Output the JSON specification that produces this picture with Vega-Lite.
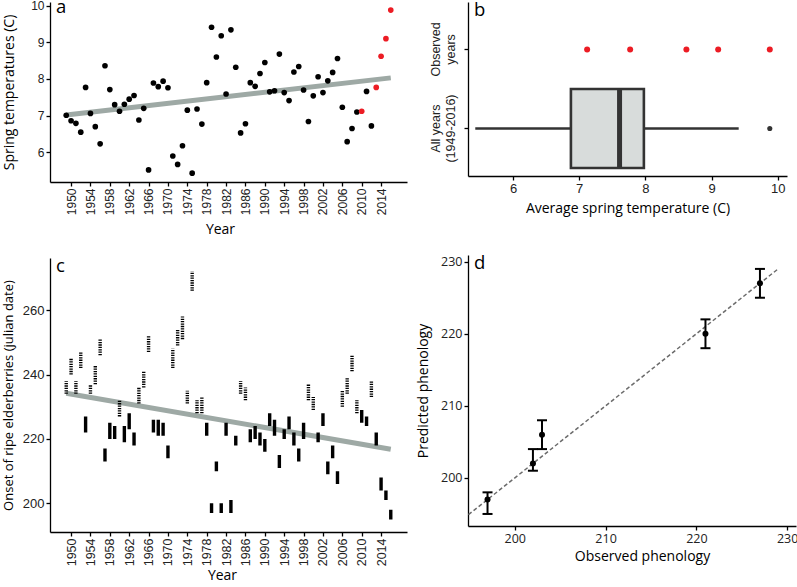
{
  "$schema": "https://vega.github.io/schema/vega-lite/v6.json",
  "padding": {"left": 2, "top": -2, "right": 0, "bottom": 0},
  "background": "white",
  "datasets": {
    "temps": [
      {"year": 1949, "temp": 7.01, "obs": "no", "grp": "All years (1949-2016)"},
      {"year": 1950, "temp": 6.86, "obs": "no", "grp": "All years (1949-2016)"},
      {"year": 1951, "temp": 6.79, "obs": "no", "grp": "All years (1949-2016)"},
      {"year": 1952, "temp": 6.55, "obs": "no", "grp": "All years (1949-2016)"},
      {"year": 1953, "temp": 7.77, "obs": "no", "grp": "All years (1949-2016)"},
      {"year": 1954, "temp": 7.06, "obs": "no", "grp": "All years (1949-2016)"},
      {"year": 1955, "temp": 6.70, "obs": "no", "grp": "All years (1949-2016)"},
      {"year": 1956, "temp": 6.23, "obs": "no", "grp": "All years (1949-2016)"},
      {"year": 1957, "temp": 8.36, "obs": "no", "grp": "All years (1949-2016)"},
      {"year": 1958, "temp": 7.71, "obs": "no", "grp": "All years (1949-2016)"},
      {"year": 1959, "temp": 7.30, "obs": "no", "grp": "All years (1949-2016)"},
      {"year": 1960, "temp": 7.12, "obs": "no", "grp": "All years (1949-2016)"},
      {"year": 1961, "temp": 7.31, "obs": "no", "grp": "All years (1949-2016)"},
      {"year": 1962, "temp": 7.45, "obs": "no", "grp": "All years (1949-2016)"},
      {"year": 1963, "temp": 7.55, "obs": "no", "grp": "All years (1949-2016)"},
      {"year": 1964, "temp": 6.88, "obs": "no", "grp": "All years (1949-2016)"},
      {"year": 1965, "temp": 7.20, "obs": "no", "grp": "All years (1949-2016)"},
      {"year": 1966, "temp": 5.52, "obs": "no", "grp": "All years (1949-2016)"},
      {"year": 1967, "temp": 7.89, "obs": "no", "grp": "All years (1949-2016)"},
      {"year": 1968, "temp": 7.79, "obs": "no", "grp": "All years (1949-2016)"},
      {"year": 1969, "temp": 7.94, "obs": "no", "grp": "All years (1949-2016)"},
      {"year": 1970, "temp": 7.76, "obs": "no", "grp": "All years (1949-2016)"},
      {"year": 1971, "temp": 5.90, "obs": "no", "grp": "All years (1949-2016)"},
      {"year": 1972, "temp": 5.67, "obs": "no", "grp": "All years (1949-2016)"},
      {"year": 1973, "temp": 6.18, "obs": "no", "grp": "All years (1949-2016)"},
      {"year": 1974, "temp": 7.15, "obs": "no", "grp": "All years (1949-2016)"},
      {"year": 1975, "temp": 5.43, "obs": "no", "grp": "All years (1949-2016)"},
      {"year": 1976, "temp": 7.18, "obs": "no", "grp": "All years (1949-2016)"},
      {"year": 1977, "temp": 6.77, "obs": "no", "grp": "All years (1949-2016)"},
      {"year": 1978, "temp": 7.90, "obs": "no", "grp": "All years (1949-2016)"},
      {"year": 1979, "temp": 9.41, "obs": "no", "grp": "All years (1949-2016)"},
      {"year": 1980, "temp": 8.60, "obs": "no", "grp": "All years (1949-2016)"},
      {"year": 1981, "temp": 9.18, "obs": "no", "grp": "All years (1949-2016)"},
      {"year": 1982, "temp": 7.59, "obs": "no", "grp": "All years (1949-2016)"},
      {"year": 1983, "temp": 9.34, "obs": "no", "grp": "All years (1949-2016)"},
      {"year": 1984, "temp": 8.32, "obs": "no", "grp": "All years (1949-2016)"},
      {"year": 1985, "temp": 6.53, "obs": "no", "grp": "All years (1949-2016)"},
      {"year": 1986, "temp": 6.78, "obs": "no", "grp": "All years (1949-2016)"},
      {"year": 1987, "temp": 7.90, "obs": "no", "grp": "All years (1949-2016)"},
      {"year": 1988, "temp": 7.80, "obs": "no", "grp": "All years (1949-2016)"},
      {"year": 1989, "temp": 8.15, "obs": "no", "grp": "All years (1949-2016)"},
      {"year": 1990, "temp": 8.45, "obs": "no", "grp": "All years (1949-2016)"},
      {"year": 1991, "temp": 7.65, "obs": "no", "grp": "All years (1949-2016)"},
      {"year": 1992, "temp": 7.68, "obs": "no", "grp": "All years (1949-2016)"},
      {"year": 1993, "temp": 8.68, "obs": "no", "grp": "All years (1949-2016)"},
      {"year": 1994, "temp": 7.63, "obs": "no", "grp": "All years (1949-2016)"},
      {"year": 1995, "temp": 7.41, "obs": "no", "grp": "All years (1949-2016)"},
      {"year": 1996, "temp": 8.19, "obs": "no", "grp": "All years (1949-2016)"},
      {"year": 1997, "temp": 8.34, "obs": "no", "grp": "All years (1949-2016)"},
      {"year": 1998, "temp": 7.70, "obs": "no", "grp": "All years (1949-2016)"},
      {"year": 1999, "temp": 6.84, "obs": "no", "grp": "All years (1949-2016)"},
      {"year": 2000, "temp": 7.54, "obs": "no", "grp": "All years (1949-2016)"},
      {"year": 2001, "temp": 8.06, "obs": "no", "grp": "All years (1949-2016)"},
      {"year": 2002, "temp": 7.63, "obs": "no", "grp": "All years (1949-2016)"},
      {"year": 2003, "temp": 7.95, "obs": "no", "grp": "All years (1949-2016)"},
      {"year": 2004, "temp": 8.18, "obs": "no", "grp": "All years (1949-2016)"},
      {"year": 2005, "temp": 8.56, "obs": "no", "grp": "All years (1949-2016)"},
      {"year": 2006, "temp": 7.23, "obs": "no", "grp": "All years (1949-2016)"},
      {"year": 2007, "temp": 6.29, "obs": "no", "grp": "All years (1949-2016)"},
      {"year": 2008, "temp": 6.65, "obs": "no", "grp": "All years (1949-2016)"},
      {"year": 2009, "temp": 7.10, "obs": "no", "grp": "All years (1949-2016)"},
      {"year": 2010, "temp": 7.12, "obs": "yes", "grp": "All years (1949-2016)"},
      {"year": 2011, "temp": 7.66, "obs": "no", "grp": "All years (1949-2016)"},
      {"year": 2012, "temp": 6.72, "obs": "no", "grp": "All years (1949-2016)"},
      {"year": 2013, "temp": 7.77, "obs": "yes", "grp": "All years (1949-2016)"},
      {"year": 2014, "temp": 8.62, "obs": "yes", "grp": "All years (1949-2016)"},
      {"year": 2015, "temp": 9.10, "obs": "yes", "grp": "All years (1949-2016)"},
      {"year": 2016, "temp": 9.88, "obs": "yes", "grp": "All years (1949-2016)"}
    ],
    "trendA": [{"year": 1949, "fit": 7.02}, {"year": 2016, "fit": 8.03}],
    "onset": [
      {"year": 1949, "start": 234, "end": 238, "kind": "dotted"},
      {"year": 1950, "start": 240, "end": 245, "kind": "dotted"},
      {"year": 1951, "start": 234, "end": 238, "kind": "dotted"},
      {"year": 1952, "start": 242, "end": 247, "kind": "dotted"},
      {"year": 1953, "start": 222, "end": 227, "kind": "solid"},
      {"year": 1954, "start": 234, "end": 237, "kind": "dotted"},
      {"year": 1955, "start": 237, "end": 243, "kind": "dotted"},
      {"year": 1956, "start": 246, "end": 251, "kind": "dotted"},
      {"year": 1957, "start": 213, "end": 217, "kind": "solid"},
      {"year": 1958, "start": 220, "end": 225, "kind": "solid"},
      {"year": 1959, "start": 220, "end": 224, "kind": "solid"},
      {"year": 1960, "start": 227, "end": 232, "kind": "dotted"},
      {"year": 1961, "start": 219, "end": 224, "kind": "solid"},
      {"year": 1962, "start": 223, "end": 228, "kind": "solid"},
      {"year": 1963, "start": 218, "end": 222, "kind": "solid"},
      {"year": 1964, "start": 231, "end": 236, "kind": "dotted"},
      {"year": 1965, "start": 236, "end": 241, "kind": "dotted"},
      {"year": 1966, "start": 247, "end": 252, "kind": "dotted"},
      {"year": 1967, "start": 222, "end": 226, "kind": "solid"},
      {"year": 1968, "start": 221, "end": 226, "kind": "solid"},
      {"year": 1969, "start": 221, "end": 225, "kind": "solid"},
      {"year": 1970, "start": 214, "end": 218, "kind": "solid"},
      {"year": 1971, "start": 242, "end": 248, "kind": "dotted"},
      {"year": 1972, "start": 249, "end": 254, "kind": "dotted"},
      {"year": 1973, "start": 251, "end": 258, "kind": "dotted"},
      {"year": 1974, "start": 231, "end": 235, "kind": "dotted"},
      {"year": 1975, "start": 266, "end": 272, "kind": "dotted"},
      {"year": 1976, "start": 228, "end": 232, "kind": "dotted"},
      {"year": 1977, "start": 228, "end": 233, "kind": "dotted"},
      {"year": 1978, "start": 221, "end": 225, "kind": "solid"},
      {"year": 1979, "start": 197, "end": 200, "kind": "solid"},
      {"year": 1980, "start": 210, "end": 213, "kind": "solid"},
      {"year": 1981, "start": 197, "end": 200, "kind": "solid"},
      {"year": 1982, "start": 221, "end": 225, "kind": "solid"},
      {"year": 1983, "start": 197, "end": 201, "kind": "solid"},
      {"year": 1984, "start": 218, "end": 221, "kind": "solid"},
      {"year": 1985, "start": 234, "end": 238, "kind": "dotted"},
      {"year": 1986, "start": 232, "end": 236, "kind": "dotted"},
      {"year": 1987, "start": 219, "end": 223, "kind": "solid"},
      {"year": 1988, "start": 220, "end": 224, "kind": "solid"},
      {"year": 1989, "start": 218, "end": 222, "kind": "solid"},
      {"year": 1990, "start": 216, "end": 220, "kind": "solid"},
      {"year": 1991, "start": 224, "end": 228, "kind": "solid"},
      {"year": 1992, "start": 221, "end": 226, "kind": "solid"},
      {"year": 1993, "start": 211, "end": 215, "kind": "solid"},
      {"year": 1994, "start": 220, "end": 223, "kind": "solid"},
      {"year": 1995, "start": 223, "end": 227, "kind": "solid"},
      {"year": 1996, "start": 218, "end": 222, "kind": "solid"},
      {"year": 1997, "start": 213, "end": 217, "kind": "solid"},
      {"year": 1998, "start": 220, "end": 225, "kind": "solid"},
      {"year": 1999, "start": 232, "end": 237, "kind": "dotted"},
      {"year": 2000, "start": 229, "end": 233, "kind": "dotted"},
      {"year": 2001, "start": 219, "end": 222, "kind": "solid"},
      {"year": 2002, "start": 224, "end": 228, "kind": "solid"},
      {"year": 2003, "start": 209, "end": 213, "kind": "solid"},
      {"year": 2004, "start": 214, "end": 218, "kind": "solid"},
      {"year": 2005, "start": 206, "end": 210, "kind": "solid"},
      {"year": 2006, "start": 230, "end": 235, "kind": "dotted"},
      {"year": 2007, "start": 234, "end": 239, "kind": "dotted"},
      {"year": 2008, "start": 241, "end": 246, "kind": "dotted"},
      {"year": 2009, "start": 228, "end": 232, "kind": "dotted"},
      {"year": 2010, "start": 225, "end": 229, "kind": "solid"},
      {"year": 2011, "start": 224, "end": 227, "kind": "solid"},
      {"year": 2012, "start": 233, "end": 238, "kind": "dotted"},
      {"year": 2013, "start": 218, "end": 222, "kind": "solid"},
      {"year": 2014, "start": 204, "end": 208, "kind": "solid"},
      {"year": 2015, "start": 201, "end": 204, "kind": "solid"},
      {"year": 2016, "start": 195, "end": 198, "kind": "solid"}
    ],
    "trendC": [{"year": 1949, "fit": 234.2}, {"year": 2016, "fit": 216.8}],
    "pheno": [
      {"observed": 197, "predicted": 197, "lo": 195, "hi": 198},
      {"observed": 202, "predicted": 202, "lo": 201, "hi": 204},
      {"observed": 203, "predicted": 206, "lo": 204, "hi": 208},
      {"observed": 221, "predicted": 220, "lo": 218, "hi": 222},
      {"observed": 227, "predicted": 227, "lo": 225, "hi": 229}
    ],
    "oneToOne": [{"v": 194.9}, {"v": 229.0}]
  },
  "hconcat": [
    {
      "vconcat": [
        {
          "width": 357,
          "height": 180,
          "title": "a",
          "layer": [
            {
              "data": {"name": "trendA"},
              "mark": {"type": "line", "color": "#9ea9a5", "strokeWidth": 5},
              "encoding": {
                "x": {"field": "year", "type": "quantitative"},
                "y": {"field": "fit", "type": "quantitative"}
              }
            },
            {
              "data": {"name": "temps"},
              "mark": {"type": "circle", "size": 32, "opacity": 1},
              "encoding": {
                "x": {
                  "field": "year", "type": "quantitative",
                  "scale": {"domain": [1945.65, 2019.35], "nice": false, "zero": false},
                  "axis": {"title": "Year", "titleX": 170, "values": [1950, 1954, 1958, 1962, 1966, 1970, 1974, 1978, 1982, 1986, 1990, 1994, 1998, 2002, 2006, 2010, 2014], "tickCount": 30, "format": "d", "labelAngle": -90, "labelAlign": "right", "labelBaseline": "middle", "labelFontSize": 12, "labelOverlap": false, "titlePadding": 8}
                },
                "y": {
                  "field": "temp", "type": "quantitative",
                  "scale": {"domain": [5.19, 10.1], "nice": false, "zero": false},
                  "axis": {"title": "Spring temperatures (C)", "values": [6, 7, 8, 9, 10], "tickCount": 10, "format": "d", "labelFontSize": 12, "labelOverlap": false, "titlePadding": 14}
                },
                "color": {"field": "obs", "type": "nominal", "scale": {"domain": ["no", "yes"], "range": ["#000000", "#ec1c24"]}, "legend": null}
              }
            }
          ]
        },
        {
          "width": 357,
          "height": 274,
          "title": "c",
          "layer": [
            {
              "data": {"name": "trendC"},
              "mark": {"type": "line", "color": "#9ea9a5", "strokeWidth": 5},
              "encoding": {
                "x": {"field": "year", "type": "quantitative"},
                "y": {"field": "fit", "type": "quantitative"}
              }
            },
            {
              "data": {"name": "onset"},
              "mark": {"type": "rule", "strokeWidth": 3.4, "color": "#000000"},
              "encoding": {
                "x": {
                  "field": "year", "type": "quantitative",
                  "scale": {"domain": [1945.65, 2019.35], "nice": false, "zero": false},
                  "axis": {"title": "Year", "titleX": 172, "values": [1950, 1954, 1958, 1962, 1966, 1970, 1974, 1978, 1982, 1986, 1990, 1994, 1998, 2002, 2006, 2010, 2014], "tickCount": 30, "format": "d", "labelAngle": -90, "labelAlign": "right", "labelBaseline": "middle", "labelFontSize": 12.5, "labelOverlap": false, "titlePadding": 3}
                },
                "y": {
                  "field": "start", "type": "quantitative",
                  "scale": {"domain": [191.1, 276.2], "nice": false, "zero": false},
                  "axis": {"title": "Onset of ripe elderberries (julian date)", "titleFontSize": 13, "values": [200, 220, 240, 260], "tickCount": 10, "format": "d", "labelFontSize": 13, "labelOverlap": false, "titlePadding": 7}
                },
                "y2": {"field": "end"},
                "strokeDash": {"field": "kind", "type": "nominal", "scale": {"domain": ["solid", "dotted"], "range": [[1, 0], [1.3, 1.1]]}, "legend": null}
              }
            }
          ]
        }
      ],
      "spacing": 19
    },
    {
      "vconcat": [
        {
          "width": 319,
          "height": 174,
          "title": "b",
          "layer": [
            {
              "data": {"name": "temps"},
              "mark": {
                "type": "boxplot",
                "extent": 1.5,
                "size": 79,
                "color": "#d8dcdb",
                "box": {"stroke": "#333333", "strokeWidth": 2.6},
                "median": {"color": "#333333", "thickness": 5, "opacity": 1},
                "rule": {"color": "#333333", "strokeWidth": 2.6},
                "outliers": {"color": "#333333", "size": 26, "filled": true, "opacity": 1}
              },
              "encoding": {
                "x": {
                  "field": "temp", "type": "quantitative",
                  "scale": {"domain": [5.32, 10.14], "nice": false, "zero": false},
                  "axis": {"title": "Average spring temperature (C)", "values": [6, 7, 8, 9, 10], "tickCount": 10, "format": "d", "labelFontSize": 13, "labelOverlap": false, "titlePadding": 6}
                },
                "y": {
                  "field": "grp", "type": "nominal",
                  "scale": {"domain": ["Observed years", "All years (1949-2016)"], "paddingInner": 0, "paddingOuter": 0.1},
                  "axis": {"title": null, "labelAngle": -90, "labelAlign": "center", "labelBaseline": "bottom", "labelFontSize": 12.5, "labelLineHeight": 15, "labelPadding": 22, "labelOverlap": false, "labelExpr": "datum.label == 'Observed years' ? ['Observed', 'years'] : ['All years', '(1949-2016)']"}
                }
              }
            },
            {
              "data": {"name": "temps"},
              "transform": [{"filter": "datum.obs == 'yes'"}],
              "mark": {"type": "circle", "size": 36, "color": "#ec1c24", "opacity": 1},
              "encoding": {
                "x": {"field": "temp", "type": "quantitative"},
                "y": {"datum": "Observed years", "type": "nominal"}
              }
            }
          ]
        },
        {
          "width": 328,
          "height": 271,
          "title": "d",
          "layer": [
            {
              "data": {"name": "oneToOne"},
              "mark": {"type": "line", "color": "#6b6b6b", "strokeWidth": 1.5, "strokeDash": [4, 2.5]},
              "encoding": {
                "x": {"field": "v", "type": "quantitative"},
                "y": {"field": "v", "type": "quantitative"}
              }
            },
            {
              "data": {"name": "pheno"},
              "mark": {"type": "rule", "strokeWidth": 2, "color": "#000000"},
              "encoding": {
                "x": {"field": "observed", "type": "quantitative"},
                "y": {"field": "lo", "type": "quantitative"},
                "y2": {"field": "hi"}
              }
            },
            {
              "data": {"name": "pheno"},
              "mark": {"type": "tick", "orient": "horizontal", "size": 10, "thickness": 2, "color": "#000000", "opacity": 1},
              "encoding": {
                "x": {"field": "observed", "type": "quantitative"},
                "y": {"field": "lo", "type": "quantitative"}
              }
            },
            {
              "data": {"name": "pheno"},
              "mark": {"type": "tick", "orient": "horizontal", "size": 10, "thickness": 2, "color": "#000000", "opacity": 1},
              "encoding": {
                "x": {"field": "observed", "type": "quantitative"},
                "y": {"field": "hi", "type": "quantitative"}
              }
            },
            {
              "data": {"name": "pheno"},
              "mark": {"type": "circle", "size": 36, "color": "#000000", "opacity": 1},
              "encoding": {
                "x": {
                  "field": "observed", "type": "quantitative",
                  "scale": {"domain": [194.85, 230.97], "nice": false, "zero": false},
                  "axis": {"title": "Observed phenology", "titleX": 174, "values": [200, 210, 220, 230], "tickCount": 10, "format": "d", "labelFont": "Open Sans", "labelFontSize": 12.5, "labelOverlap": false, "titlePadding": 5}
                },
                "y": {
                  "field": "predicted", "type": "quantitative",
                  "scale": {"domain": [193.33, 230.93], "nice": false, "zero": false},
                  "axis": {"title": "Predicted phenology", "values": [200, 210, 220, 230], "tickCount": 10, "format": "d", "labelFont": "Open Sans", "labelFontSize": 12.5, "labelOverlap": false, "titlePadding": 10}
                }
              }
            }
          ]
        }
      ],
      "spacing": 38
    }
  ],
  "spacing": 9,
  "config": {
    "view": {"stroke": null},
    "font": "Open Sans",
    "axis": {
      "grid": false,
      "domainColor": "#000000",
      "domainWidth": 1.3,
      "tickColor": "#000000",
      "tickWidth": 1.3,
      "tickSize": 4,
      "labelColor": "#222222",
      "labelFont": "Liberation Sans",
      "labelPadding": 2,
      "labelFlush": false,
      "labelOverlap": false,
      "titleFont": "Open Sans",
      "titleFontSize": 14,
      "titleFontWeight": "normal",
      "titleColor": "#000000"
    },
    "title": {
      "font": "Open Sans",
      "fontSize": 18.5,
      "fontWeight": "normal",
      "color": "#000000",
      "anchor": "start",
      "frame": "group",
      "offset": -17,
      "dx": 6
    }
  }
}
